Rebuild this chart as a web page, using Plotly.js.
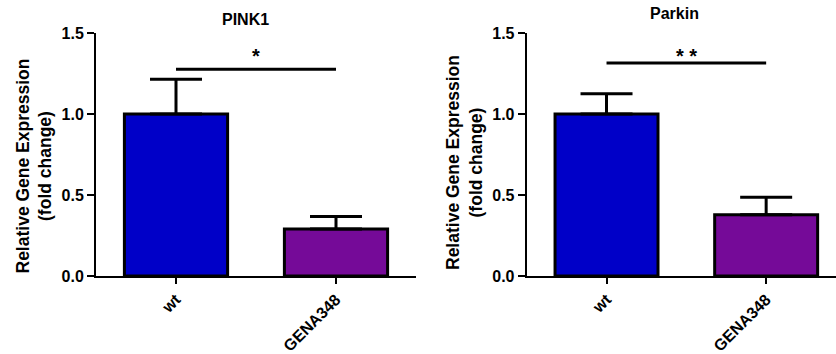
<!DOCTYPE html>
<html><head><meta charset="utf-8">
<script src="https://cdn.plot.ly/plotly-3.0.1.min.js"></script>
<style>html,body{margin:0;padding:0;background:#fff}#plot{width:836px;height:354px}</style>
</head><body><div id="plot"></div>
<script>
const categories = ['wt', 'GENA348'];
const pink1Mean = [1.0, 0.29];
const pink1Sem = [0.215, 0.077];
const parkinMean = [1.0, 0.378];
const parkinSem = [0.125, 0.108];
const panelTitles = ['PINK1', 'Parkin'];
const sigLevel = [1.277, 1.315];
const sigLabel = ['*', '* *'];
const sigLabelY = [1.36, 1.36];
const barColors = ['#0000C8', '#750A98'];
const yTicks = [0, 0.5, 1.0, 1.5];

const F = 'Liberation Sans, Arial, sans-serif';
const zeros = [0, 0];

function barTrace(mean, sem, xa, ya) {
  return {
    type: 'bar', x: categories, y: mean, xaxis: xa, yaxis: ya,
    width: 0.645,
    marker: {color: barColors, line: {color: '#000', width: 3}},
    error_y: {type: 'data', symmetric: false, array: sem, arrayminus: zeros,
              color: '#000', thickness: 3, width: 26},
    showlegend: false, hoverinfo: 'skip'
  };
}

const data = [
  barTrace(pink1Mean, pink1Sem, 'x', 'y'),
  barTrace(parkinMean, parkinSem, 'x2', 'y2')
];

const yDom = [1 - 276/354, 1 - 33/354];
function yax(anchor) {
  return {domain: yDom, anchor: anchor, range: [0, 1.5], tickvals: yTicks,
    ticktext: yTicks.map(v => v.toFixed(1)), showline: true, linewidth: 2, linecolor: '#000',
    ticks: 'outside', ticklen: 7, tickwidth: 2, tickcolor: '#000', showgrid: false, zeroline: false,
    tickfont: {family: F, size: 16, color: '#000', weight: 'bold'}, fixedrange: true};
}
function xax(dom, range, anchor) {
  return {domain: dom, anchor: anchor, range: range, type: 'category', showline: true,
    linewidth: 2, linecolor: '#000', ticks: 'outside', ticklen: 6, tickwidth: 2, tickcolor: '#000',
    showgrid: false, zeroline: false, tickangle: -45,
    tickfont: {family: F, size: 16, color: '#000', weight: 'bold'}, fixedrange: true};
}

const annotations = [];
const shapes = [];
const xrefs = ['x', 'x2'], yrefs = ['y', 'y2'];
const titleX = [246/836, 674/836], titleY = [1 - 19/354, 1 - 13.3/354];
const yTitleX = [33.5/836, 464/836], yTitleY = [1 - 166/354, 1 - 163/354];
for (let i = 0; i < 2; i++) {
  annotations.push({xref: 'paper', yref: 'paper', x: titleX[i], y: titleY[i], text: panelTitles[i],
    showarrow: false, xanchor: 'center', yanchor: 'middle',
    font: {family: F, size: 16, color: '#000', weight: 'bold'}});
  annotations.push({xref: 'paper', yref: 'paper', x: yTitleX[i], y: yTitleY[i],
    text: 'Relative Gene Expression<br>(fold change)', textangle: -90, showarrow: false,
    xanchor: 'center', yanchor: 'middle',
    font: {family: F, size: 17.5, color: '#000', weight: 'bold'}});
  annotations.push({xref: xrefs[i], yref: yrefs[i], x: 0.5, y: sigLabelY[i], text: sigLabel[i],
    showarrow: false, xanchor: 'center', yanchor: 'middle',
    font: {family: F, size: 20, color: '#000', weight: 'bold'}});
  shapes.push({type: 'line', xref: xrefs[i], yref: yrefs[i], x0: 0, x1: 1, y0: sigLevel[i], y1: sigLevel[i],
    line: {color: '#000', width: 3}});
}

const layout = {
  width: 836, height: 354, margin: {l: 0, r: 0, t: 0, b: 0},
  paper_bgcolor: '#fff', plot_bgcolor: '#fff', bargap: 0.35,
  xaxis: xax([96/836, 416/836], [-0.5, 1.5], 'y'),
  yaxis: yax('x'),
  xaxis2: xax([526.7/836, 1], [-0.5, 1.4375], 'y2'),
  yaxis2: yax('x2'),
  annotations: annotations, shapes: shapes
};

Plotly.newPlot('plot', data, layout, {displayModeBar: false, staticPlot: true});
</script></body></html>
